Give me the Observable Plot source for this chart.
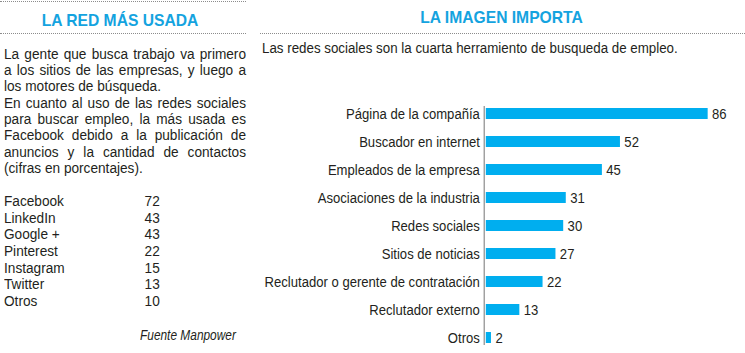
<!DOCTYPE html>
<html>
<head>
<meta charset="utf-8">
<script src="https://cdn.jsdelivr.net/npm/d3@7"></script>
<script src="https://cdn.jsdelivr.net/npm/@observablehq/plot@0.6"></script>
<style>
  html, body { margin: 0; padding: 0; background: #fff; }
  body { width: 745px; height: 353px; position: relative; overflow: hidden;
         font-family: "Liberation Sans", Arial, sans-serif; color: #231f20; }
  .dots { position: absolute; height: 0; border-top: 1.5px dotted #8c8c8c; }
  .sq { position: absolute; transform-origin: 0 0; transform: scaleX(0.88); white-space: nowrap; }
  .title { position: absolute; color: #14a3df; font-weight: bold; font-size: 17px; line-height: 17px;
           text-align: center; transform-origin: 50% 0; transform: scaleX(0.92); white-space: nowrap; }
  #left-body { left: 4px; top: 45.8px; width: 275px; font-size: 15.5px; line-height: 16.3px; text-align: justify; white-space: normal; }
  #list { left: 4px; top: 193px; font-size: 15.5px; line-height: 16.67px; width: 200px; }
  #list .row { position: relative; height: 16.67px; }
  #list .val { position: absolute; left: 137px; width: 40px; text-align: right; top: 0; }
  #fuente { left: 140px; top: 327px; font-size: 14px; line-height: 16px; font-style: italic; transform: scaleX(0.85); }
  #sub { left: 262px; top: 40px; font-size: 15.5px; line-height: 16.3px; transform: scaleX(0.86); }
  #chart { position: absolute; left: 258px; top: 95px; width: 573px; height: 258px; transform-origin: 0 0; transform: scaleX(0.85); }
  #chart svg { max-width: none !important; }
  #chart text { font-family: "Liberation Sans", Arial, sans-serif; }
</style>
</head>
<body>
<div class="dots" style="left:0;top:1px;width:246px"></div>
<div class="title" style="left:0;top:12px;width:240px">LA RED MÁS USADA</div>
<div class="dots" style="left:0;top:33px;width:246px"></div>
<div id="left-body" class="sq">La gente que busca trabajo va primero a los sitios de las empresas, y luego a los motores de búsqueda.<br>En cuanto al uso de las redes sociales para buscar empleo, la más usada es Facebook debido a la publicación de anuncios y la cantidad de contactos (cifras en porcentajes).</div>
<div id="list" class="sq"></div>
<div id="fuente" class="sq">Fuente Manpower</div>

<div class="title" style="left:258px;top:9px;width:487px">LA IMAGEN IMPORTA</div>
<div class="dots" style="left:260px;top:33px;width:485px"></div>
<div id="sub" class="sq">Las redes sociales son la cuarta herramiento de busqueda de empleo.</div>
<div id="chart"></div>

<script>
// Left panel list
const redes = ["Facebook", "LinkedIn", "Google +", "Pinterest", "Instagram", "Twitter", "Otros"];
const redesValores = [72, 43, 43, 22, 15, 13, 10];

// Right panel bar chart
const herramientas = [
  "Página de la compañía",
  "Buscador en internet",
  "Empleados de la empresa",
  "Asociaciones de la industria",
  "Redes sociales",
  "Sitios de noticias",
  "Reclutador o gerente de contratación",
  "Reclutador externo",
  "Otros"
];
const valores = [86, 52, 45, 31, 30, 27, 22, 13, 2];

const list = document.getElementById("list");
redes.forEach((r, i) => {
  const row = document.createElement("div");
  row.className = "row";
  row.innerHTML = `<span>${r}</span><span class="val">${redesValores[i]}</span>`;
  list.appendChild(row);
});

const data = herramientas.map((h, i) => ({ h, v: valores[i] }));

// The SVG is drawn wider and squeezed horizontally by CSS (0.85) to get a condensed type look.
const chart = Plot.plot({
  width: 573,
  height: 258,
  marginLeft: 268,
  marginRight: 1.5,
  marginTop: 11,
  marginBottom: 8,
  style: { fontSize: "15.4px", color: "#231f20", background: "transparent" },
  x: { domain: [0, 100], axis: null },
  y: { domain: herramientas, paddingInner: 0.59, paddingOuter: 0.045, label: null },
  marks: [
    Plot.barX(data, { x: "v", y: "h", fill: "#00aeef" }),
    Plot.text(data, { x: "v", y: "h", text: d => String(d.v), dx: 4.7, textAnchor: "start", fontSize: 15.4, fill: "#231f20" }),
    Plot.axisY({ tickSize: 0, tickPadding: 7.5, fontSize: 15.4, label: null }),
    Plot.ruleX([0], { dx: -2.4, stroke: "#777", strokeWidth: 1.2 })
  ]
});
chart.style.maxWidth = "none";
document.getElementById("chart").appendChild(chart);
</script>
</body>
</html>
